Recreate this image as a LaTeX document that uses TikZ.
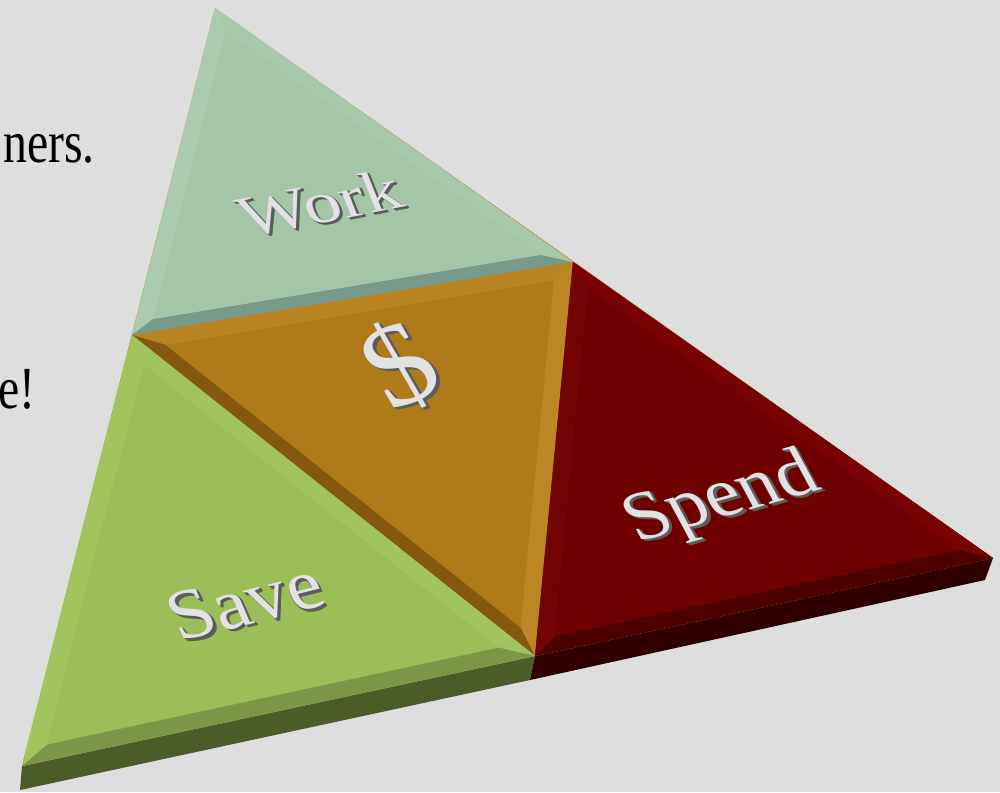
\documentclass[tikz,border=0pt]{standalone}
\usepackage{fontspec}
\setmainfont{Liberation Serif}
\usetikzlibrary{calc}
\definecolor{bggray}{HTML}{DEDEDE}
\definecolor{workface}{HTML}{A4C6A7}
\definecolor{workhi}{HTML}{AACBAD}
\definecolor{workmid}{HTML}{A7C8AA}
\definecolor{worklo}{HTML}{789A8B}
\definecolor{cashface}{HTML}{AF7A19}
\definecolor{cashhi}{HTML}{B88320}
\definecolor{cashmid}{HTML}{BC8723}
\definecolor{cashlo}{HTML}{855810}
\definecolor{saveface}{HTML}{9CBE58}
\definecolor{savehi}{HTML}{A1C45D}
\definecolor{savemid}{HTML}{A1C461}
\definecolor{savelo}{HTML}{7B9646}
\definecolor{saveside}{HTML}{4B5C28}
\definecolor{spendface}{HTML}{6F0000}
\definecolor{spendhi}{HTML}{780202}
\definecolor{spendmid}{HTML}{740303}
\definecolor{spendlo}{HTML}{4C0000}
\definecolor{spendside}{HTML}{300000}
\definecolor{lblgray}{HTML}{E2E2E4}
\definecolor{shdgray}{HTML}{5C5C5C}
\tikzset{
  lbltext/.style={text=lblgray, inner sep=0pt, transform shape},
  lblshade/.style={text=shdgray, inner sep=0pt, transform shape},
  bodytxt/.style={font=\fontsize{34pt}{34pt}\selectfont, text=black, inner sep=0pt, transform shape},
}
% tile with a bevelled rim: corners, three rim colours, face colour
\newcommand{\bevtile}[7]{%
  \coordinate (tc) at (barycentric cs:#1=1,#2=1,#3=1);
  \coordinate (i1) at ($(tc)!0.88!(#1)$);
  \coordinate (i2) at ($(tc)!0.88!(#2)$);
  \coordinate (i3) at ($(tc)!0.88!(#3)$);
  \fill[#7] (#1) -- (#2) -- (#3) -- cycle;
  \fill[#4] (#1) -- (#2) -- (i2) -- (i1) -- cycle;
  \fill[#5] (#2) -- (#3) -- (i3) -- (i2) -- cycle;
  \fill[#6] (#3) -- (#1) -- (i1) -- (i3) -- cycle;
  \fill[#7] (i1) -- (i2) -- (i3) -- cycle;}
% raised label: name, x, y, transform, size, text
\newcommand{\tilelabel}[6]{%
  \begin{scope}[shift={(#2,#3)}, #4]
    \foreach \d in {4,3,2,1}
      \node[lblshade, font=\fontsize{#5}{#5}\selectfont] (#1-s\d) at (0.5*\d,0.9*\d) {#6};
    \node[lbltext, font=\fontsize{#5}{#5}\selectfont] (#1) at (0,0) {#6};
  \end{scope}}

\begin{document}
\begin{tikzpicture}[x=0.02cm, y=-0.02cm]
  \fill[bggray] (0,0) rectangle (1000,792);
  \useasboundingbox (0,0) rectangle (1000,792);

  % corners of the slab
  \coordinate (A) at (215,8);
  \coordinate (B) at (22,766);
  \coordinate (S) at (993,558);
  \coordinate (L) at (132,335);
  \coordinate (R) at (573,262);
  \coordinate (M) at (535,656);
  \coordinate (B2) at (20,790);
  \coordinate (M2) at (530,680);
  \coordinate (S2) at (985,580);

  % front edge of the slab
  \fill[saveside] (B) -- (M) -- (M2) -- (B2) -- cycle;
  \fill[spendside] (M) -- (S) -- (S2) -- (M2) -- cycle;

  % top faces
  \fill[cashface] (A) -- (B) -- (S) -- cycle;
  \bevtile{A}{L}{R}{workhi}{worklo}{workmid}{workface}
  \bevtile{L}{R}{M}{cashhi}{cashmid}{cashlo}{cashface}
  \bevtile{L}{M}{B}{savemid}{savelo}{savehi}{saveface}
  \bevtile{R}{S}{M}{spendhi}{spendlo}{spendmid}{spendface}

  % labels
  \tilelabel{work}{320}{203}{rotate=11, yscale=0.8, xslant=-0.15}{42pt}{Work}
  \tilelabel{cash}{400}{366}{rotate=24, yscale=0.95, xslant=-0.1}{72pt}{\$}
  \tilelabel{save}{245}{601}{rotate=14, yscale=0.92, xslant=-0.15}{45pt}{Save}
  \tilelabel{spend}{722}{500}{rotate=16, yscale=0.92, xslant=-0.2}{44pt}{Spend}

  % text running in from the left
  \begin{scope}[shift={(95,162)}, xscale=0.8]
    \node[bodytxt, anchor=base east] (linea) at (0,0) {ners.};
  \end{scope}
  \begin{scope}[shift={(36,408)}, xscale=0.8]
    \node[bodytxt, anchor=base east] (lineb) at (0,0) {e!};
  \end{scope}
\end{tikzpicture}
\end{document}
